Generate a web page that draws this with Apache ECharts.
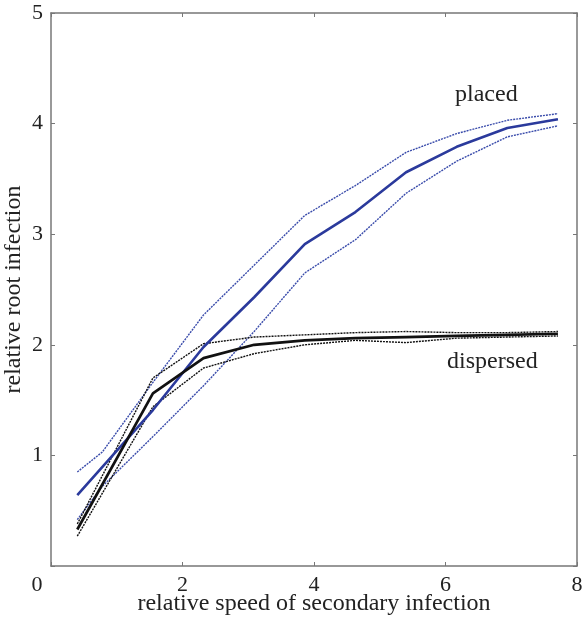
<!DOCTYPE html>
<html>
<head>
<meta charset="utf-8">
<script src="https://cdn.jsdelivr.net/npm/echarts@6/dist/echarts.min.js"></script>
<style>html,body{margin:0;padding:0;background:#fff}#c{width:583px;height:621px}</style>
</head>
<body>
<div id="c"></div>
<script>
// x positions (relative speed of secondary infection)
const xAll = [0.4, 0.78, 1.55, 2.32, 3.09, 3.86, 4.63, 5.4, 6.17, 6.94, 7.71];
const xMain = [0.4, 1.55, 2.32, 3.09, 3.86, 4.63, 5.4, 6.17, 6.94, 7.71];

// placed (blue)
const placedMean  = [0.64, 1.41, 1.98, 2.43, 2.91, 3.20, 3.56, 3.79, 3.96, 4.04];
const placedUpper = [0.85, 1.03, 1.66, 2.27, 2.72, 3.17, 3.44, 3.74, 3.91, 4.03, 4.09];
const placedLower = [0.42, 0.72, 1.17, 1.63, 2.12, 2.65, 2.95, 3.37, 3.66, 3.88, 3.98];

// dispersed (black)
const dispMean  = [0.33, 1.56, 1.88, 2.00, 2.04, 2.06, 2.07, 2.08, 2.09, 2.10];
const dispUpper = [0.38, 1.70, 2.01, 2.07, 2.09, 2.11, 2.12, 2.11, 2.11, 2.12];
const dispLower = [0.27, 1.44, 1.79, 1.92, 2.00, 2.04, 2.02, 2.06, 2.07, 2.08];

const xTicks = [0, 2, 4, 6, 8];
const yTicks = [0, 1, 2, 3, 4, 5];

const zip = (xs, ys) => ys.map((y, i) => [xs[i], y]);
const FONT = '"Liberation Serif", "DejaVu Serif", serif';
const BLUE = '#2b3a9c';
const BLUE_L = '#3a4cab';
const BLACK = '#111';

const chart = echarts.init(document.getElementById('c'), null, {renderer: 'canvas'});
function line(data, color, width, type, z) {
  return {type: 'line', data, showSymbol: false, symbol: 'none', z,
    lineStyle: {color, width, type}, animation: false};
}
const axisCommon = {
  axisLine: {show: true, onZero: false, lineStyle: {color: '#777', width: 1.5}},
  axisTick: {show: true, inside: true, length: 4, lineStyle: {color: '#777', width: 1}},
  splitLine: {show: false}
};
chart.setOption({
  animation: false,
  grid: {left: 51, top: 13, right: 6, bottom: 55, containLabel: false, outerBoundsMode: 'none'},
  xAxis: [
    Object.assign({type: 'value', min: 0, max: 8, interval: 2, position: 'bottom',
      name: 'relative speed of secondary infection', nameLocation: 'middle', nameGap: 26,
      nameMoveOverlap: false,
      nameTextStyle: {fontFamily: FONT, fontSize: 24, color: '#222'},
      axisLabel: {fontFamily: FONT, fontSize: 22, color: '#222', margin: 8,
        formatter: v => v === 0 ? '{z|0}' : String(v),
        rich: {z: {fontFamily: FONT, fontSize: 22, color: '#222', padding: [0, 28, 0, 0]}}}
    }, axisCommon),
    Object.assign({type: 'value', min: 0, max: 8, interval: 2, position: 'top',
      axisLabel: {show: false}}, axisCommon)
  ],
  yAxis: [
    Object.assign({type: 'value', min: 0, max: 5, interval: 1, position: 'left',
      name: 'relative root infection', nameLocation: 'middle', nameGap: 25,
      nameMoveOverlap: false,
      nameTextStyle: {fontFamily: FONT, fontSize: 24, color: '#222'},
      axisLabel: {fontFamily: FONT, fontSize: 22, color: '#222', margin: 8,
        formatter: v => v === 0 ? '' : String(v)}
    }, axisCommon),
    Object.assign({type: 'value', min: 0, max: 5, interval: 1, position: 'right',
      axisLabel: {show: false}}, axisCommon)
  ],
  series: [
    line(zip(xAll, placedUpper), BLUE_L, 1.4, [2, 1], 2),
    line(zip(xAll, placedLower), BLUE_L, 1.4, [2, 1], 2),
    line(zip(xMain, placedMean), BLUE, 2.6, 'solid', 3),
    line(zip(xMain, dispUpper), BLACK, 1.4, [2, 1], 2),
    line(zip(xMain, dispLower), BLACK, 1.4, [2, 1], 2),
    line(zip(xMain, dispMean), BLACK, 2.7, 'solid', 4)
  ],
  graphic: [
    {type: 'text', left: 455, top: 83, style: {text: 'placed', font: '24px ' + FONT, fill: '#222'}},
    {type: 'text', left: 447, top: 350, style: {text: 'dispersed', font: '24px ' + FONT, fill: '#222'}}
  ]
});
</script>
</body>
</html>
